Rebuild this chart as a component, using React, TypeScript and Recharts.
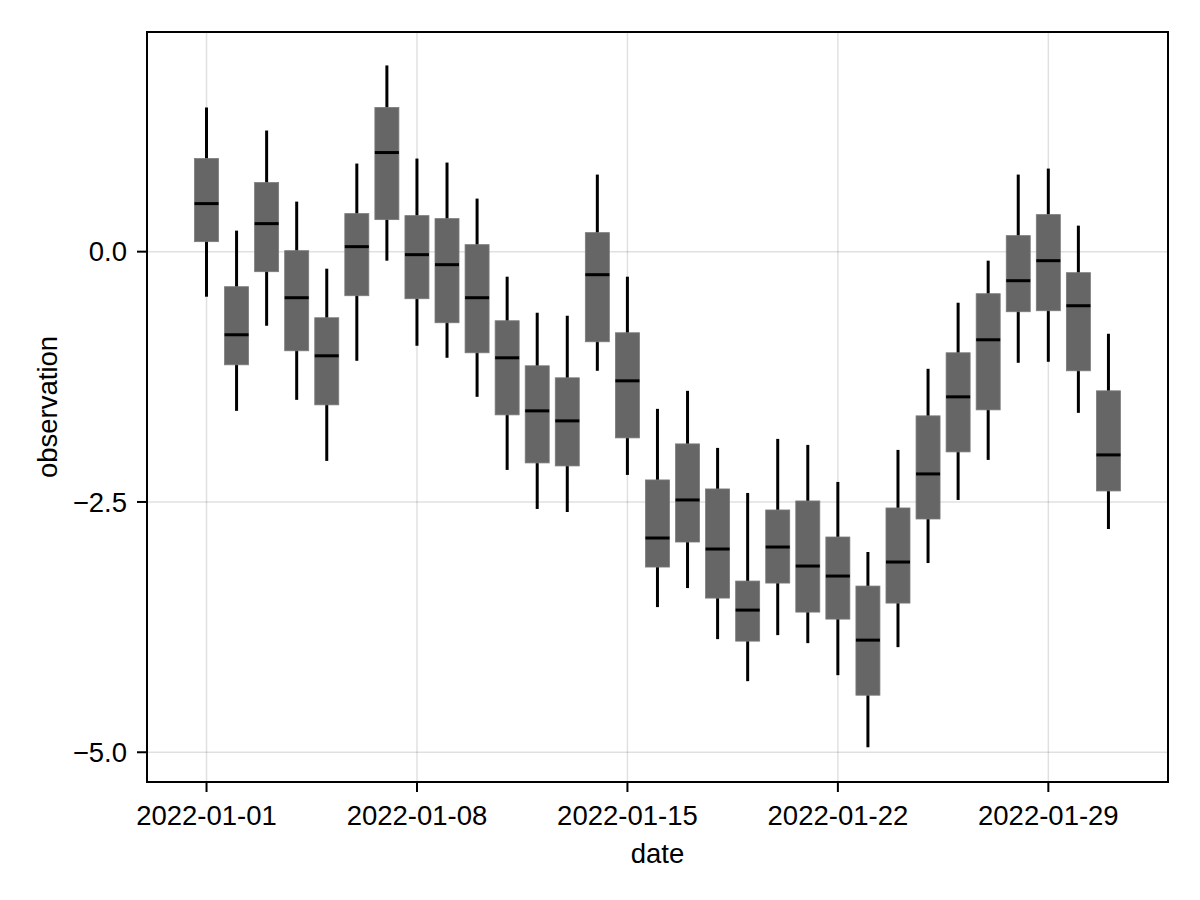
import React from 'react';
import { ComposedChart, Bar, XAxis, YAxis, CartesianGrid, Label, ReferenceArea } from 'recharts';

const dates = [
  '2022-01-01','2022-01-02','2022-01-03','2022-01-04','2022-01-05','2022-01-06','2022-01-07',
  '2022-01-08','2022-01-09','2022-01-10','2022-01-11','2022-01-12','2022-01-13','2022-01-14',
  '2022-01-15','2022-01-16','2022-01-17','2022-01-18','2022-01-19','2022-01-20','2022-01-21',
  '2022-01-22','2022-01-23','2022-01-24','2022-01-25','2022-01-26','2022-01-27','2022-01-28',
  '2022-01-29','2022-01-30','2022-01-31',
];
const maxs = [1.44, 0.21, 1.21, 0.50, -0.17, 0.88, 1.86, 0.93, 0.89, 0.53, -0.25, -0.61, -0.64, 0.77, -0.25, -1.57, -1.39, -1.96, -2.41, -1.87, -1.93, -2.30, -3.00, -1.98, -1.17, -0.51, -0.09, 0.77, 0.83, 0.26, -0.82];
const q3s = [0.93, -0.35, 0.69, 0.01, -0.66, 0.38, 1.44, 0.36, 0.33, 0.07, -0.69, -1.14, -1.26, 0.19, -0.81, -2.28, -1.92, -2.37, -3.29, -2.58, -2.49, -2.85, -3.34, -2.56, -1.64, -1.01, -0.42, 0.16, 0.37, -0.21, -1.39];
const medians = [0.48, -0.83, 0.28, -0.46, -1.04, 0.05, 0.99, -0.03, -0.13, -0.46, -1.06, -1.59, -1.69, -0.23, -1.29, -2.86, -2.48, -2.97, -3.58, -2.95, -3.14, -3.24, -3.88, -3.10, -2.22, -1.45, -0.88, -0.29, -0.09, -0.54, -2.03];
const q1s = [0.10, -1.13, -0.20, -0.99, -1.53, -0.44, 0.32, -0.47, -0.71, -1.01, -1.63, -2.11, -2.14, -0.90, -1.86, -3.15, -2.90, -3.46, -3.89, -3.31, -3.60, -3.67, -4.43, -3.51, -2.67, -2.00, -1.58, -0.60, -0.59, -1.19, -2.39];
const mins = [-0.45, -1.59, -0.74, -1.48, -2.09, -1.09, -0.09, -0.94, -1.06, -1.45, -2.18, -2.57, -2.60, -1.19, -2.23, -3.55, -3.36, -3.87, -4.29, -3.83, -3.91, -4.23, -4.95, -3.95, -3.11, -2.48, -2.08, -1.11, -1.10, -1.61, -2.77];

const xTicks = [0, 7, 14, 21, 28];
const yTicks = [-5, -2.5, 0];
const xDomain: [number, number] = [-1.98, 31.98];
const yDomain: [number, number] = [-5.297, 2.194];

const data = dates.map((d, i) => ({
  idx: i,
  date: d,
  min: mins[i],
  q1: q1s[i],
  median: medians[i],
  q3: q3s[i],
  max: maxs[i],
  range: [mins[i], maxs[i]],
}));

const FONT = '"Liberation Sans", Arial, Helvetica, sans-serif';
const FS = 27.5;

const BoxShape = (props: any) => {
  const { x, y, width, height, payload } = props;
  if (x == null || y == null || !payload) return null;
  const top = Math.min(y, y + height);
  const h = Math.abs(height);
  const { min, q1, median, q3, max } = payload;
  const toY = (v: number) => top + ((max - v) / (max - min)) * h;
  const cx = x + width / 2;
  return (
    <g>
      <line x1={cx} x2={cx} y1={toY(max)} y2={toY(min)} stroke="#000" strokeWidth={3} />
      <rect x={x} y={toY(q3)} width={width} height={toY(q1) - toY(q3)} fill="#666666" stroke="#7a7a7a" strokeWidth={0.8} />
      <line x1={x} x2={x + width} y1={toY(median)} y2={toY(median)} stroke="#000" strokeWidth={3} />
    </g>
  );
};

const fmtY = (v: number) => v.toFixed(1).replace('-', '\u2212');

export default function App() {
  return (
    <div style={{ width: 1192, height: 892 }}>
      <ComposedChart
        width={1192}
        height={892}
        data={data}
        margin={{ top: 24, right: 32, bottom: 0, left: 0 }}
        style={{ fontFamily: FONT }}
      >
        <CartesianGrid stroke="rgba(0,0,0,0.12)" strokeWidth={1.5} />
        <XAxis
          dataKey="idx"
          type="number"
          domain={xDomain}
          allowDataOverflow
          ticks={xTicks}
          tickFormatter={(v: number) => dates[v]}
          height={118}
          tickSize={10}
          tickMargin={13}
          axisLine={{ stroke: '#000', strokeWidth: 2 }}
          tickLine={{ stroke: '#000', strokeWidth: 2 }}
          tick={{ fill: '#000', fontSize: FS, fontFamily: FONT }}
          interval={0}
        >
          <Label
            content={(p: any) => {
              const vb = p.viewBox || {};
              return (
                <text x={vb.x + vb.width / 2} y={vb.y + 80.7} textAnchor="middle" fontSize={FS} fontFamily={FONT} fill="#000">
                  date
                </text>
              );
            }}
          />
        </XAxis>
        <YAxis
          type="number"
          domain={yDomain}
          allowDataOverflow
          ticks={yTicks}
          tickFormatter={fmtY}
          width={139}
          tickSize={10}
          tickMargin={10}
          axisLine={{ stroke: '#000', strokeWidth: 2 }}
          tickLine={{ stroke: '#000', strokeWidth: 2 }}
          tick={{ fill: '#000', fontSize: FS, fontFamily: FONT }}
          interval={0}
        >
          <Label
            content={(p: any) => {
              const vb = p.viewBox || {};
              const cy = vb.y + vb.height / 2;
              const lx = vb.x + 48.7;
              return (
                <text x={lx} y={cy} transform={`rotate(-90 ${lx} ${cy})`} textAnchor="middle" fontSize={FS} fontFamily={FONT} fill="#000">
                  observation
                </text>
              );
            }}
          />
        </YAxis>
        <Bar dataKey="range" barSize={24} shape={BoxShape} isAnimationActive={false} />
        <ReferenceArea
          x1={xDomain[0]}
          x2={xDomain[1]}
          y1={yDomain[0]}
          y2={yDomain[1]}
          fill="none"
          fillOpacity={0}
          stroke="#000"
          strokeWidth={2}
          ifOverflow="visible"
        />
      </ComposedChart>
    </div>
  );
}
